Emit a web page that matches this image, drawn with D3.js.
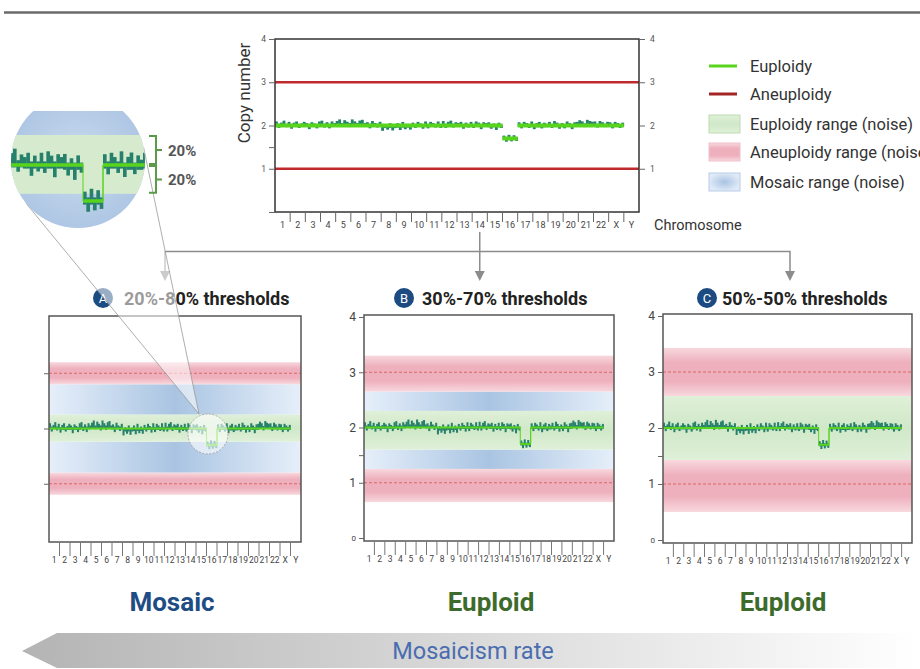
<!DOCTYPE html>
<html><head><meta charset="utf-8">
<script src="https://cdn.jsdelivr.net/npm/d3@7"></script>
<style>body{margin:0;background:#fff}svg{display:block;font-family:Roboto,"Noto Sans",sans-serif}</style>
</head><body><svg id="c" width="920" height="669"></svg>
<script>
// ---------- DATA ----------
const chromosomes = ["1","2","3","4","5","6","7","8","9","10","11","12","13","14","15","16","17","18","19","20","21","22","X","Y"];
const copyNumber = [2,2,2,2,2,2,2,2,2,2,2,2,2,2,2,1.7,2,2,2,2,2,2,2,null];
const chromOffset = [1,0,0,1,3,3,1,-3,-2,0,0,1,0,0,-1,0,0,-1,0,0,2,1,0,null]; // hundredths
const binSpikes = [
  [6,-4,3,8,-2,5],[-5,4,7,-3,2,6],[3,-6,5,2,-4,7],[8,-3,4,-5,6,2],[5,9,-2,7,3,-4],[9,4,-3,6,8,-2],
  [4,-5,7,2,-3,5],[-7,3,-4,6,-6,2],[5,-6,8,-4,3,-5],[4,-3,6,2,-5,7],[-4,6,3,-2,7,-3],[7,-4,5,8,-3,4],
  [3,6,-5,4,-2,6],[-3,7,4,-6,5,3],[6,-4,3,-7,5,-2],[4,-5,6,-4,5,-3],[5,-4,6,3,-3,7],[-5,4,7,-3,5,2],
  [6,-3,8,4,-5,3],[-4,7,3,-6,5,6],[8,5,-3,9,6,4],[6,-3,7,4,-2,5],[5,-4,6,3,-3,4],null
]; // hundredths
const topYTicks = [0,1,1.5,2,3,4];
const topYLabels = [1,2,3,4];
const aneuploidLevels = [1,3];
const panelLetters = ["A","B","C"];
const panelTitles = ["20%-80% thresholds","30%-70% thresholds","50%-50% thresholds"];
const euploidRange = [[1.76,2.25],[1.6,2.3],[1.43,2.57]];
const aneuploidUpper = [[2.8,3.2],[2.65,3.3],[2.57,3.43]];
const aneuploidLower = [[0.8,1.2],[0.65,1.25],[0.5,1.43]];
const panelYTicks = [[1,2,3],[0,1,1.5,2,3,4],[0,1,1.5,2,3,4]];
const panelYLabels = [[],[0,1,2,3,4],[0,1,2,3,4]];
const panelCalls = ["Mosaic","Euploid","Euploid"];
const legendLabels = ["Euploidy","Aneuploidy","Euploidy range (noise)","Aneuploidy range (noise)","Mosaic range (noise)"];
const bracketLabels = ["20%","20%"];
const arrowLabel = "Mosaicism rate";

// ---------- STYLE / LAYOUT ----------
const C = {green:"#58d41c", teal:"#26806c", red:"#bf2a2c", darkRed:"#a32424", frame:"#555", badge:"#1c4b82",
  mosaic:"#1e4d85", euploid:"#3d6b2c", conn:"#8c8c8c"};
const panels = [
  {l:49,r:301,t:316,b:542,badgeX:103,textX:124},
  {l:364,r:614,t:315,b:541,badgeX:404,textX:422},
  {l:663,r:912,t:314,b:543,badgeX:707,textX:722}
];
const callX = [172,491,783];

const svg = d3.select("#c");
svg.append("rect").attr("width",920).attr("height",669).attr("fill","#fff");
const defs = svg.append("defs");
function lin(id, stops, vertical){
  const g = defs.append("linearGradient").attr("id",id)
    .attr("x1",0).attr("y1",0).attr("x2",vertical?0:1).attr("y2",vertical?1:0);
  stops.forEach(s=>g.append("stop").attr("offset",s[0]).attr("stop-color",s[1]));
}
lin("blueG",[[0,"#e6effa"],[0.5,"#a9c4e2"],[1,"#e6effa"]],false);
lin("pinkG",[[0,"#f8d8de"],[0.3,"#eeb0bd"],[0.7,"#eeb0bd"],[1,"#f8d8de"]],true);
lin("greenG",[[0,"#dff0d8"],[0.5,"#d0e8c8"],[1,"#dff0d8"]],true);
lin("arrowG",[[0,"#b4b4b4"],[1,"#ffffff"]],false);
const rg = defs.append("radialGradient").attr("id","blueR");
rg.append("stop").attr("offset",0).attr("stop-color","#a9c3e2");
rg.append("stop").attr("offset",1).attr("stop-color","#dfe9f7");
const rg2 = defs.append("radialGradient").attr("id","magBlue").attr("cx",0.5).attr("cy",0.5).attr("r",0.6);
rg2.append("stop").attr("offset",0).attr("stop-color","#c9daee");
rg2.append("stop").attr("offset",1).attr("stop-color","#a9c3e2");

// top rule
svg.append("line").attr("x1",4).attr("x2",920).attr("y1",12.5).attr("y2",12.5).attr("stroke","#6a6a6a").attr("stroke-width",2.5);

function drawProfile(g, x, y, o){
  const bw = x.bandwidth();
  chromosomes.forEach((c,i)=>{
    const cn = copyNumber[i]; if(cn==null) return;
    const base = cn + chromOffset[i]/100;
    const sp = binSpikes[i]; const sw = bw/sp.length;
    sp.forEach((s,j)=>{
      const v = s/100*o.amp;
      const y1 = y(base+Math.max(0,v)+o.base), y2 = y(base+Math.min(0,v)-o.base);
      g.append("rect").attr("x",x(c)+j*sw).attr("width",sw+0.3).attr("y",y1).attr("height",y2-y1)
        .attr("fill",C.teal).attr("opacity",o.op||1);
    });
  });
  chromosomes.forEach((c,i)=>{
    const cn = copyNumber[i]; if(cn==null) return;
    g.append("line").attr("x1",x(c)).attr("x2",x(c)+bw).attr("y1",y(cn)).attr("y2",y(cn))
      .attr("stroke",C.green).attr("stroke-width",o.lw).attr("opacity",o.op||1);
    if(o.connect && i>0 && copyNumber[i-1]!=null && copyNumber[i-1]!==cn){
      g.append("line").attr("x1",x(c)).attr("x2",x(c)).attr("y1",y(copyNumber[i-1])).attr("y2",y(cn))
        .attr("stroke",C.green).attr("stroke-width",1).attr("opacity",o.op||1);
    }
    if(o.connect && i+1<chromosomes.length && copyNumber[i+1]!=null && copyNumber[i+1]!==cn && cn!==2){
      g.append("line").attr("x1",x(c)+bw).attr("x2",x(c)+bw).attr("y1",y(cn)).attr("y2",y(copyNumber[i+1]))
        .attr("stroke",C.green).attr("stroke-width",1).attr("opacity",o.op||1);
    }
  });
}

// ---------- TOP CHART ----------
const topX = d3.scaleBand().domain(chromosomes).range([275,639]);
const topY = d3.scaleLinear().domain([0,4]).range([212,39]);
const topG = svg.append("g");
aneuploidLevels.forEach(v=>topG.append("line").attr("x1",275).attr("x2",639).attr("y1",topY(v)).attr("y2",topY(v))
  .attr("stroke",C.red).attr("stroke-width",2.5));
drawProfile(topG, topX, topY, {amp:0.9, base:0.03, lw:4});
topG.append("rect").attr("x",275).attr("y",39).attr("width",364).attr("height",173).attr("fill","none")
  .attr("stroke","#333").attr("stroke-width",1.5);
const la = topG.append("g").attr("transform","translate(275,0)")
  .call(d3.axisLeft(topY).tickValues(topYTicks).tickSize(6).tickPadding(3).tickFormat(d=>topYLabels.includes(d)?d:""));
const ra = topG.append("g").attr("transform","translate(639,0)")
  .call(d3.axisRight(topY).tickValues(topYLabels).tickSize(6).tickPadding(5).tickFormat(d=>d));
[la,ra].forEach(a=>{a.select(".domain").remove(); a.selectAll("line").attr("stroke","#666");
  a.selectAll("text").attr("font-size",8.5).attr("fill","#555").attr("font-family","Roboto");});
const ba = topG.append("g").attr("transform","translate(0,212)")
  .call(d3.axisBottom(topX).tickSize(0).tickPadding(10));
ba.select(".domain").remove();
ba.selectAll("text").attr("font-size",9).attr("fill","#444").attr("font-family","Roboto");
chromosomes.slice(1).forEach(c=>topG.append("line").attr("x1",topX(c)).attr("x2",topX(c)).attr("y1",212).attr("y2",222)
  .attr("stroke","#666").attr("stroke-width",1));
topG.append("text").attr("x",654).attr("y",230).attr("font-size",14.5).attr("fill","#333").text("Chromosome");
topG.append("text").attr("transform","translate(250,93) rotate(-90)").attr("text-anchor","middle")
  .attr("font-size",17).attr("fill","#333").text("Copy number");

// ---------- LEGEND ----------
const lg = svg.append("g");
const legRows = [66,94,124,152,182];
const legFills = [null,null,"url(#greenG)","url(#pinkG)","url(#blueR)"];
const legStroke = [C.green,C.darkRed,"#bcdcb2","#f0c2cb","#b9cde6"];
legendLabels.forEach((t,i)=>{
  const yy = legRows[i];
  if(legFills[i]==null){
    lg.append("line").attr("x1",709).attr("x2",737).attr("y1",yy).attr("y2",yy).attr("stroke",legStroke[i]).attr("stroke-width",3);
  } else {
    lg.append("rect").attr("x",709).attr("y",yy-9).attr("width",31).attr("height",18).attr("fill",legFills[i])
      .attr("stroke",legStroke[i]).attr("stroke-width",1);
  }
  lg.append("text").attr("x",750).attr("y",yy+5.5).attr("font-size",16.5).attr("fill","#333").text(t);
});

// ---------- CONNECTORS ----------
const cg = svg.append("g").attr("stroke",C.conn).attr("stroke-width",1.5).attr("fill","none");
const cx14 = topX("14")+topX.bandwidth()/2;
cg.append("path").attr("d",`M165,272 V251.5 H790 V272`);
cg.append("line").attr("x1",cx14).attr("x2",cx14).attr("y1",232).attr("y2",272);
[165,cx14,790].forEach(xx=>svg.append("path").attr("d",`M${xx-5},271 L${xx+5},271 L${xx},281 Z`).attr("fill",C.conn));

// ---------- PANELS ----------
panels.forEach((p,k)=>{
  const g = svg.append("g");
  const x = d3.scaleBand().domain(chromosomes).range([p.l,p.r]);
  const y = d3.scaleLinear().domain([0,4]).range([p.b-3,p.t+2]);
  const band=(a,b,fill)=>g.append("rect").attr("x",p.l).attr("width",p.r-p.l).attr("y",y(b)).attr("height",y(a)-y(b)).attr("fill",fill);
  const eu = euploidRange[k], up = aneuploidUpper[k], lo = aneuploidLower[k];
  if(up[0]>eu[1]) band(eu[1],up[0],"url(#blueG)");
  if(eu[0]>lo[1]) band(lo[1],eu[0],"url(#blueG)");
  band(up[0],up[1],"url(#pinkG)");
  band(lo[0],lo[1],"url(#pinkG)");
  band(eu[0],eu[1],"url(#greenG)");
  aneuploidLevels.forEach(v=>g.append("line").attr("x1",p.l).attr("x2",p.r).attr("y1",y(v)).attr("y2",y(v))
    .attr("stroke","#d9534f").attr("stroke-width",0.8).attr("stroke-dasharray","3,2"));
  drawProfile(g, x, y, {amp:1, base:0.025, lw:2, connect:true});
  g.append("rect").attr("x",p.l).attr("y",p.t).attr("width",p.r-p.l).attr("height",p.b-p.t).attr("fill","none")
    .attr("stroke",C.frame).attr("stroke-width",1.5);
  const ya = g.append("g").attr("transform",`translate(${p.l},0)`)
    .call(d3.axisLeft(y).tickValues(panelYTicks[k]).tickSize(5).tickPadding(3)
      .tickFormat(d=>panelYLabels[k].includes(d)?d:""));
  ya.select(".domain").remove();
  ya.selectAll("line").attr("stroke","#666");
  ya.selectAll("text").attr("font-size",d=>d===0?8:12).attr("fill","#444").attr("font-family","Roboto");
  const xa = g.append("g").attr("transform",`translate(0,${p.b})`)
    .call(d3.axisBottom(x).tickSize(0).tickPadding(15));
  xa.select(".domain").remove();
  xa.selectAll("text").attr("font-size",8.5).attr("fill","#444").attr("font-family","Roboto");
  chromosomes.slice(1).forEach(c=>g.append("line").attr("x1",x(c)).attr("x2",x(c)).attr("y1",p.b).attr("y2",p.b+14)
    .attr("stroke","#777").attr("stroke-width",1));
  g.append("circle").attr("cx",p.badgeX).attr("cy",298).attr("r",10).attr("fill",C.badge);
  g.append("text").attr("x",p.badgeX).attr("y",302.5).attr("text-anchor","middle").attr("font-size",13)
    .attr("fill","#fff").text(panelLetters[k]);
  g.append("text").attr("x",p.textX).attr("y",304.5).attr("font-size",18).attr("font-weight",700).attr("fill","#222")
    .text(panelTitles[k]);
  svg.append("text").attr("x",callX[k]).attr("y",611).attr("text-anchor","middle").attr("font-size",26)
    .attr("font-weight",700).attr("fill",k===0?C.mosaic:C.euploid).text(panelCalls[k]);
});

// ---------- MAGNIFIER ----------
const mc = {cx:78, cy:161, r:67, topClip:111};
const sm = {cx:208, cy:434, r:20};
const P = {x:199, y:414};
const dx = P.x-mc.cx, dy = P.y-mc.cy, dd = Math.hypot(dx,dy);
const th = Math.atan2(dy,dx), al = Math.acos(mc.r/dd);
const T1 = [mc.cx+mc.r*Math.cos(th+al), mc.cy+mc.r*Math.sin(th+al)];
const T2 = [mc.cx+mc.r*Math.cos(th-al), mc.cy+mc.r*Math.sin(th-al)];
svg.append("path").attr("d",`M${T1} L${P.x},${P.y} L${T2} Z`).attr("fill","#fff").attr("opacity",0.55);
svg.append("path").attr("d",`M${T1} L${P.x},${P.y} M${T2} L${P.x},${P.y}`).attr("stroke","#999").attr("stroke-width",0.8).attr("fill","none");
svg.append("circle").attr("cx",sm.cx).attr("cy",sm.cy).attr("r",sm.r).attr("fill","#fff").attr("opacity",0.6);
svg.append("circle").attr("cx",sm.cx).attr("cy",sm.cy).attr("r",sm.r).attr("fill","none").attr("stroke","#999")
  .attr("stroke-width",0.8).attr("stroke-dasharray","2,1.5");

defs.append("clipPath").attr("id","magClip").append("circle").attr("cx",mc.cx).attr("cy",mc.cy).attr("r",mc.r);
defs.append("clipPath").attr("id","magTop").append("rect").attr("x",0).attr("y",mc.topClip).attr("width",300).attr("height",300);
const mgOuter = svg.append("g").attr("clip-path","url(#magTop)");
const mg = mgOuter.append("g").attr("clip-path","url(#magClip)");
const mx = d3.scaleBand().domain(chromosomes).range([83-15*20, 83+9*20]);
const my = d3.scaleLinear().domain([1.5,2.5]).range([225,105]);
mg.append("rect").attr("x",mc.cx-mc.r).attr("y",mc.cy-mc.r).attr("width",2*mc.r).attr("height",2*mc.r).attr("fill","url(#magBlue)");
mg.append("rect").attr("x",mc.cx-mc.r).attr("width",2*mc.r).attr("y",my(euploidRange[0][1]))
  .attr("height",my(euploidRange[0][0])-my(euploidRange[0][1])).attr("fill","#d6ebcd");
drawProfile(mg, mx, my, {amp:1.2, base:0.03, lw:3.5, connect:true});

const bg = svg.append("g").attr("stroke","#5b9a48").attr("stroke-width",2).attr("fill","none");
const br = [[euploidRange[0][1],2],[2,euploidRange[0][0]]];
br.forEach((b,i)=>{
  const y1=my(b[0])+1, y2=my(b[1])-1, ym=(y1+y2)/2;
  bg.append("path").attr("d",`M149,${y1} H156 V${y2} H149 M156,${ym} H162`);
  svg.append("text").attr("x",168).attr("y",ym+5.5).attr("font-size",15).attr("font-weight",700).attr("fill","#555").text(bracketLabels[i]);
});

// ---------- BOTTOM ARROW ----------
svg.append("path").attr("d","M22,651 L57,633 H920 V668 H57 Z").attr("fill","url(#arrowG)");
svg.append("text").attr("x",473).attr("y",659).attr("text-anchor","middle").attr("font-size",23.5)
  .attr("fill","#4a6db0").text(arrowLabel);
</script></body></html>
